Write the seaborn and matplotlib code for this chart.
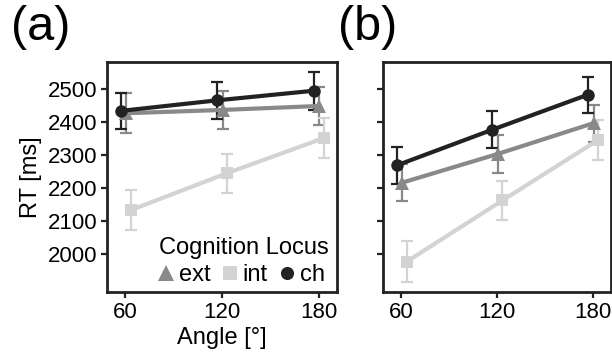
import matplotlib
matplotlib.use("Agg")
import matplotlib.pyplot as plt
from matplotlib.lines import Line2D
import seaborn as sns
import pandas as pd

# ---- data ----
angles = [60, 120, 180]
loci = ["ext", "int", "ch"]

# panel (a)
ext_a = [2426, 2436, 2448]
int_a = [2133, 2245, 2351]
ch_a = [2433, 2465, 2494]
ext_a_err = [60, 57, 58]
int_a_err = [61, 59, 60]
ch_a_err = [55, 56, 57]

# panel (b)
ext_b = [2216, 2303, 2396]
int_b = [1977, 2162, 2345]
ch_b = [2268, 2376, 2482]
ext_b_err = [57, 57, 56]
int_b_err = [62, 60, 62]
ch_b_err = [55, 56, 55]

y_ticks = [2000, 2100, 2200, 2300, 2400, 2500]
x_ticks = [60, 120, 180]

colors = {"ext": "#898989", "int": "#d3d3d3", "ch": "#222222"}
markers = {"ext": "^", "int": "s", "ch": "o"}
msizes = {"ext": 10.5, "int": 9, "ch": 9}
dodge = {"ext": 0.6, "int": 3.4, "ch": -3.0}

def make_df(ext, inte, ch, ext_e, int_e, ch_e):
    rows = []
    for name, vals, errs in (("ext", ext, ext_e), ("int", inte, int_e), ("ch", ch, ch_e)):
        for a, v, e in zip(angles, vals, errs):
            rows.append({"Angle": a + dodge[name], "RT": v, "err": e, "locus": name})
    return pd.DataFrame(rows)

df_a = make_df(ext_a, int_a, ch_a, ext_a_err, int_a_err, ch_a_err)
df_b = make_df(ext_b, int_b, ch_b, ext_b_err, int_b_err, ch_b_err)

sns.set_style("white")
plt.rcParams["font.family"] = ["Liberation Sans", "DejaVu Sans"]
plt.rcParams["text.color"] = "black"
plt.rcParams["axes.labelcolor"] = "black"
plt.rcParams["xtick.color"] = "black"
plt.rcParams["ytick.color"] = "black"

fig = plt.figure(figsize=(6.12, 3.62), dpi=100)
W, H = 612, 362
ax_a = fig.add_axes([107 / W, 1 - 292 / H, 230 / W, 230 / H])
ax_b = fig.add_axes([383 / W, 1 - 292 / H, 228 / W, 230 / H])

for ax, df in ((ax_a, df_a), (ax_b, df_b)):
    for name in loci:
        sub = df[df["locus"] == name]
        ax.errorbar(sub["Angle"], sub["RT"], yerr=sub["err"], fmt="none",
                    ecolor=colors[name], elinewidth=1.6, capsize=4.5,
                    capthick=1.6, zorder=2)
        sns.lineplot(data=sub, x="Angle", y="RT", ax=ax, color=colors[name],
                     marker=markers[name], markersize=msizes[name],
                     markeredgewidth=0, linewidth=3.0, legend=False,
                     zorder=3, errorbar=None)
    ax.set_xlim(48.5, 191.5)
    ax.set_ylim(1885, 2581)
    ax.set_xticks(x_ticks)
    ax.set_yticks(y_ticks)
    for sp in ax.spines.values():
        sp.set_linewidth(2.0)
        sp.set_color("#222222")
        sp.set_visible(True)
    ax.tick_params(axis="both", direction="out", length=4, width=1.6,
                   color="#222222", labelcolor="black", labelsize=16, pad=3,
                   left=True, bottom=True)
    ax.set_xlabel("")
    ax.set_ylabel("")

ax_b.set_yticklabels([])
ax_a.set_ylabel("RT [ms]", fontsize=17, labelpad=4, color="black")
ax_a.set_xlabel("Angle [°]", fontsize=17, labelpad=3, color="black")

handles = [Line2D([], [], linestyle="none", marker=markers[n], color=colors[n],
                  markersize=msizes[n] * 1.05, markeredgewidth=0) for n in loci]
leg = ax_a.legend(handles, loci, title="Cognition Locus", ncol=3, frameon=False,
                  loc="lower left", bbox_to_anchor=(0.155, -0.045),
                  fontsize=17, title_fontsize=17, handlelength=0.6,
                  handletextpad=0.25, columnspacing=0.5, borderpad=0.2,
                  labelspacing=0.2)
leg._legend_box.align = "left"
for t in leg.get_texts():
    t.set_color("black")
leg.get_title().set_color("black")

fig.text(11 / W, 1 - 5 / H, "(a)", fontsize=35, va="top", ha="left", color="black")
fig.text(338 / W, 1 - 5 / H, "(b)", fontsize=35, va="top", ha="left", color="black")

fig.savefig("out.png", dpi=100)
